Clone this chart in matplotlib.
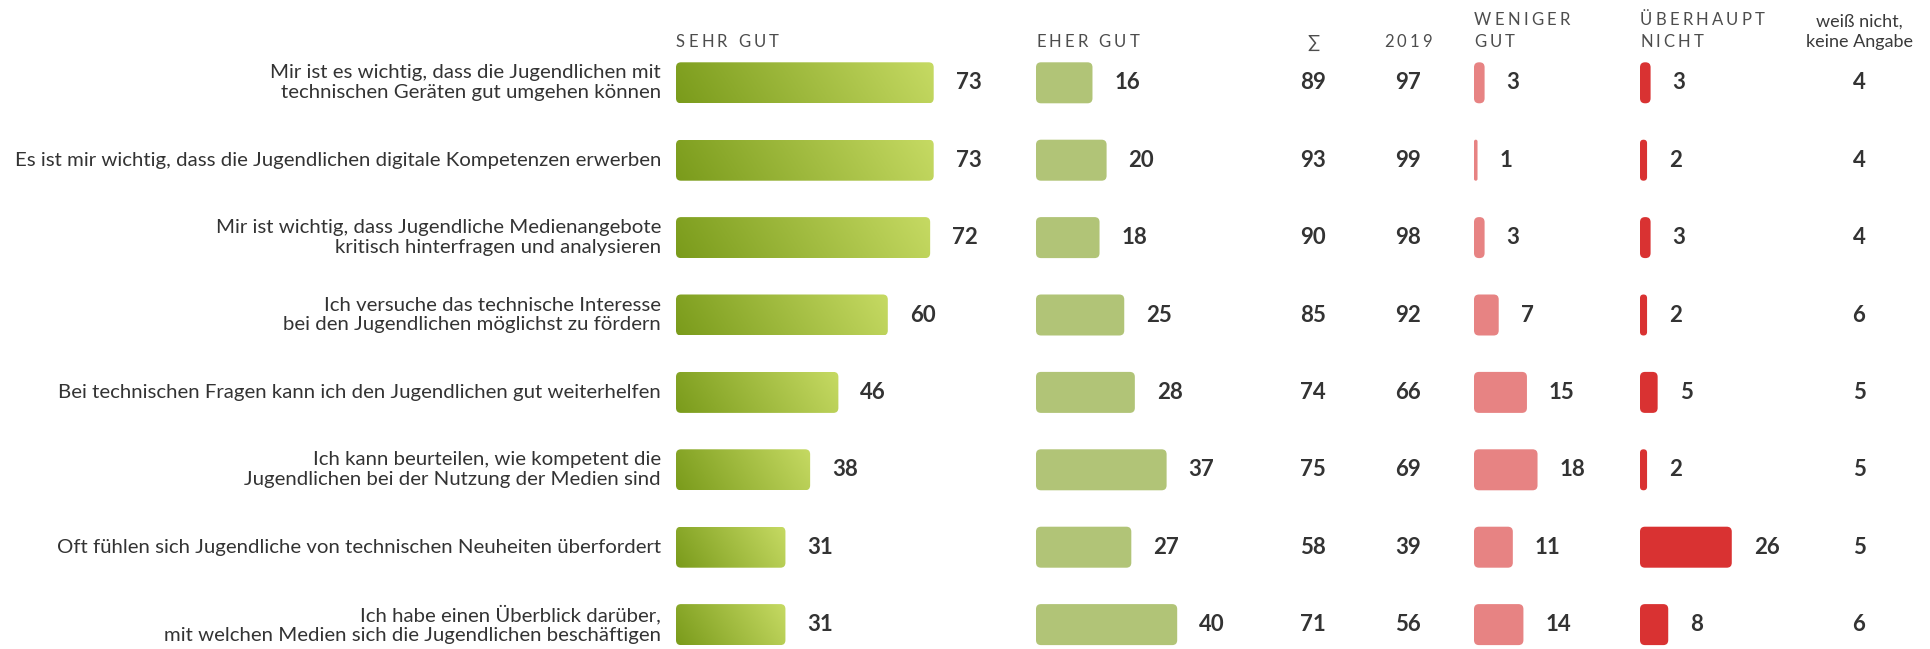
import matplotlib
matplotlib.use("Agg")
import numpy as np
from matplotlib import pyplot as plt
from matplotlib.patches import FancyBboxPatch
from matplotlib.colors import LinearSegmentedColormap

plt.rcParams['font.family'] = ['Lato', 'DejaVu Sans']

# data
labels = [
    "Mir ist es wichtig, dass die Jugendlichen mit\ntechnischen Geräten gut umgehen können",
    "Es ist mir wichtig, dass die Jugendlichen digitale Kompetenzen erwerben",
    "Mir ist wichtig, dass Jugendliche Medienangebote\nkritisch hinterfragen und analysieren",
    "Ich versuche das technische Interesse\nbei den Jugendlichen möglichst zu fördern",
    "Bei technischen Fragen kann ich den Jugendlichen gut weiterhelfen",
    "Ich kann beurteilen, wie kompetent die\nJugendlichen bei der Nutzung der Medien sind",
    "Oft fühlen sich Jugendliche von technischen Neuheiten überfordert",
    "Ich habe einen Überblick darüber,\nmit welchen Medien sich die Jugendlichen beschäftigen",
]
sehr_gut = [73, 73, 72, 60, 46, 38, 31, 31]
eher_gut = [16, 20, 18, 25, 28, 37, 27, 40]
summe = [89, 93, 90, 85, 74, 75, 58, 71]
wert_2019 = [97, 99, 98, 92, 66, 69, 39, 56]
weniger_gut = [3, 1, 3, 7, 15, 18, 11, 14]
ueberhaupt_nicht = [3, 2, 3, 2, 5, 2, 26, 8]
weiss_nicht = [4, 4, 4, 6, 5, 5, 5, 6]

# layout (pixels)
W, H = 1930, 649
ROW0, ROW_STEP = 82.8, 77.4
PX = 3.53          # pixels per percent
BAR_H = 41
RADIUS = 5
GRAD_ANGLE = np.deg2rad(58)   # css-like angle, 90 = to right
TEXT_C = "#333333"
HEAD_C = "#4d4d4d"

fig = plt.figure(figsize=(W / 100, H / 100), dpi=100)
ylim = ((H - ROW0) / ROW_STEP, -ROW0 / ROW_STEP)
rows = np.arange(len(labels))

tx = fig.add_axes([0, 0, 1, 1])
tx.set_xlim(0, W)
tx.set_ylim(*ylim)
tx.axis("off")

green_cmap = LinearSegmentedColormap.from_list("g", ["#7a9b1b", "#c6da63"])


def gradient_image(w_px, h_px):
    # linear gradient at a fixed angle, dark bottom-left -> light top-right
    dx, dy = np.sin(GRAD_ANGLE), np.cos(GRAD_ANGLE)
    xs = np.linspace(-w_px / 2, w_px / 2, 200)
    ys = np.linspace(h_px / 2, -h_px / 2, 40)[:, None]   # row 0 = top on screen
    length = w_px * abs(dx) + h_px * abs(dy)
    return (xs[None, :] * dx + ys * dy) / length + 0.5


def bar_column(x0, x1, values, color=None, gradient=False):
    ax = fig.add_axes([x0 / W, 0, (x1 - x0) / W, 1])
    ax.patch.set_alpha(0)
    ax.axis("off")
    h = BAR_H / ROW_STEP
    aspect = PX / ROW_STEP
    for i, v in zip(rows, values):
        r = min(RADIUS / PX, v / 2)
        patch = FancyBboxPatch((0, i - h / 2), v, h,
                               boxstyle=f"round,pad=0,rounding_size={r}",
                               mutation_aspect=aspect, linewidth=0,
                               facecolor=color if not gradient else "none")
        ax.add_patch(patch)
        if gradient:
            img = gradient_image(v * PX, BAR_H)
            im = ax.imshow(img, cmap=green_cmap, vmin=0, vmax=1,
                           extent=(0, v, i - h / 2, i + h / 2),
                           origin="lower", aspect="auto", interpolation="bilinear")
            im.set_clip_path(patch)
        ax.annotate(str(v), xy=(v, i), xytext=(22, 0), textcoords="offset pixels",
                    ha="left", va="center", fontsize=16, fontweight="bold", color=TEXT_C)
    ax.set_xlim(0, (x1 - x0) / PX)
    ax.set_ylim(*ylim)
    return ax


bar_column(676, 1030, sehr_gut, gradient=True)
bar_column(1036, 1290, eher_gut, color="#b1c477")
bar_column(1474, 1630, weniger_gut, color="#e78383")
bar_column(1640, 1800, ueberhaupt_nicht, color="#d93232")

for i, lab in zip(rows, labels):
    tx.text(661, i, lab, ha="right", va="center", fontsize=14.7, color="#333333",
            linespacing=1.2)

for col_x, vals in [(1313, summe), (1408, wert_2019), (1859, weiss_nicht)]:
    for i, v in zip(rows, vals):
        tx.text(col_x, i, str(v), ha="center", va="center", fontsize=16,
                fontweight="bold", color=TEXT_C)

# headers with letter spacing
renderer = fig.canvas.get_renderer()


def text_width(s, **kw):
    t = fig.text(0, 0, s, **kw)
    w = t.get_window_extent(renderer).width
    t.remove()
    return w


def spaced(x, baseline, s, track=3.2, align="left", **kw):
    kw = dict(fontsize=12, color=HEAD_C, **kw)
    total = text_width(s, **kw) + track * (len(s) - 1)
    if align == "center":
        x = x - total / 2
    for k, ch in enumerate(s):
        if ch == " ":
            continue
        off = text_width(s[:k + 1], **kw) - text_width(ch, **kw) + track * k
        fig.text((x + off) / W, 1 - baseline / H, ch, ha="left", va="baseline", **kw)


spaced(676, 47, "SEHR GUT")
spaced(1036, 47, "EHER GUT")
fig.text(1313 / W, 1 - 48 / H, "∑", ha="center", va="baseline", fontsize=13, color=HEAD_C)
spaced(1408, 47, "2019", align="center")
spaced(1474, 25, "WENIGER")
spaced(1474, 47, "GUT")
spaced(1640, 25, "ÜBERHAUPT")
spaced(1640, 47, "NICHT")
fig.text(1859 / W, 1 - 27 / H, "weiß nicht,", ha="center", va="baseline",
         fontsize=13, color="#3a3a3a")
fig.text(1859 / W, 1 - 47 / H, "keine Angabe", ha="center", va="baseline",
         fontsize=13, color="#3a3a3a")

fig.savefig("out.png", dpi=100, facecolor="white")
